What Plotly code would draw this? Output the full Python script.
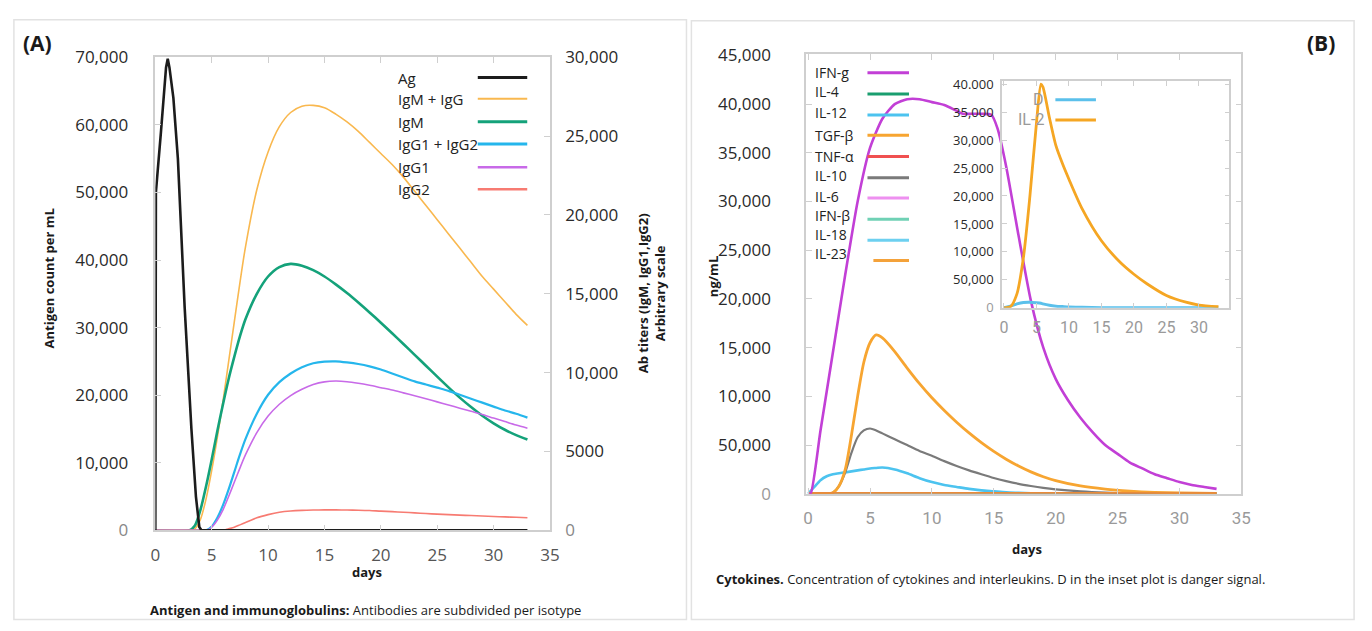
import plotly.graph_objects as go

W, H = 1372, 631


def px(x):
    return x / W


def py(y):
    return 1 - y / H


# ---------------- Panel A data ----------------
ag_days = [0, 0.05, 0.5, 0.95, 1.1, 1.25, 1.6, 2.0, 2.6, 3.2, 3.6, 3.9, 4.1, 33]
ag_vals = [0, 50000, 59000, 68500, 69800, 68500, 64000, 55000, 33000, 15000, 5000, 500, 0, 0]

ab_days = [0, 3, 3.5, 4, 4.5, 5, 5.5, 6, 6.5, 7, 7.5, 8, 9, 10, 11, 12, 13, 14, 15, 16, 17,
           18, 19, 20, 21, 22, 23, 24, 25, 26, 27, 28, 29, 30, 31, 32, 33]
igm_igg = [0, 0, 100, 700, 2000, 3800, 5900, 8200, 10700, 13200, 15700, 18000, 21600, 24000,
           25600, 26500, 26900, 26950, 26800, 26400, 25900, 25300, 24600, 23900, 23200, 22400,
           21500, 20600, 19700, 18800, 17900, 17000, 16100, 15300, 14500, 13700, 13000]
igm = [0, 0, 300, 1300, 2800, 4500, 6300, 8000, 9600, 11000, 12300, 13400, 15000, 16100,
       16700, 16900, 16780, 16500, 16100, 15600, 15050, 14450, 13820, 13170, 12500, 11820,
       11130, 10440, 9750, 9070, 8420, 7820, 7270, 6790, 6380, 6040, 5760]
igg12 = [0, 0, 0, 0, 0, 250, 800, 1600, 2600, 3700, 4800, 5800, 7400, 8600, 9400, 9950,
         10350, 10600, 10700, 10720, 10650, 10550, 10400, 10200, 9950, 9700, 9450, 9250, 9050,
         8850, 8600, 8350, 8100, 7850, 7600, 7400, 7150]
igg1 = [0, 0, 0, 0, 0, 200, 650, 1300, 2150, 3050, 3950, 4800, 6200, 7250, 8000, 8550, 8950,
        9250, 9420, 9470, 9430, 9330, 9200, 9050, 8900, 8720, 8540, 8350, 8150, 7950, 7750,
        7550, 7350, 7120, 6900, 6680, 6480]
igg2 = [0, 0, 0, 0, 0, 0, 0, 0, 100, 200, 350, 500, 800, 1000, 1150, 1230, 1270, 1290, 1300,
        1300, 1290, 1280, 1260, 1220, 1190, 1150, 1110, 1070, 1030, 1000, 970, 940, 910, 880,
        855, 830, 800]

legend_a = ["Ag", "IgM + IgG", "IgM", "IgG1 + IgG2", "IgG1", "IgG2"]
colors_a = ["#1c1c1c", "#f9b84f", "#14a27a", "#25b6ec", "#c86ae8", "#f77b72"]

yticks_a_left = [0, 10000, 20000, 30000, 40000, 50000, 60000, 70000]
yticks_a_left_text = ['<span style="color:#888">0</span>', "10,000", "20,000", "30,000",
                      "40,000", "50,000", "60,000", "70,000"]
yticks_a_right = [0, 5000, 10000, 15000, 20000, 25000, 30000]
yticks_a_right_text = ['<span style="color:#888">0</span>', "5000", "10,000", "15,000",
                       "20,000", "25,000", "30,000"]
xticks = [0, 5, 10, 15, 20, 25, 30, 35]

# ---------------- Panel B data ----------------
ifng_days = [0, 0.2, 1, 2, 3, 4, 5, 6, 7, 8, 9, 10, 11, 12, 12.5, 13, 14, 14.8, 15.3, 16, 17,
             18, 19, 20, 21, 22, 23, 24, 25, 26, 27, 28, 29, 30, 31, 32, 33]
ifng = [0, 0, 6500, 14500, 22500, 30000, 35500, 38500, 40000, 40500, 40500, 40200, 39900,
        39300, 39000, 39000, 39000, 38900, 37500, 33600, 26500, 19800, 15000, 11800, 9600, 7800,
        6300, 5000, 4100, 3200, 2600, 2000, 1600, 1200, 900, 700, 500]

cyt_days = [0, 0.5, 1, 1.5, 2, 2.5, 3, 3.5, 4, 4.5, 5, 5.5, 6, 7, 8, 9, 10, 11, 12, 13, 14,
            15, 16, 17, 18, 19, 20, 22, 24, 26, 28, 30, 33]
tgfb = [0, 0, 0, 0, 100, 800, 2500, 6000, 10000, 13500, 15500, 16300, 16000, 14600, 12900,
        11300, 9850, 8550, 7350, 6250, 5250, 4350, 3550, 2850, 2250, 1750, 1350, 800, 480, 280,
        150, 80, 30]
il10 = [0, 0, 0, 0, 100, 800, 2200, 4200, 5800, 6500, 6700, 6500, 6200, 5600, 5000, 4400, 3900,
        3350, 2850, 2400, 2000, 1620, 1300, 1020, 800, 610, 460, 250, 120, 50, 20, 0, 0]
il12 = [0, 700, 1400, 1800, 2000, 2100, 2200, 2300, 2400, 2500, 2600, 2650, 2700, 2500, 2100,
        1600, 1200, 900, 700, 500, 350, 250, 150, 100, 50, 20, 0, 0, 0, 0, 0, 0, 0]
flat_days = [0, 33]
tnfa = [0, 0]
il4 = [0, 0]
il6 = [0, 0]
ifnb = [0, 0]
il18 = [0, 0]
il23 = [0, 0]

legend_b = ["IFN-g", "IL-4", "IL-12", "TGF-β", "TNF-α", "IL-10", "IL-6", "IFN-β", "IL-18", "IL-23"]
colors_b = ["#c23fd6", "#1a9e6f", "#4cc3ef", "#f7a531", "#f05050", "#7a7a7a", "#ee90f0",
            "#6fd1b5", "#6dd0f0", "#f4a23a"]

yticks_b = [0, 5000, 10000, 15000, 20000, 25000, 30000, 35000, 40000, 45000]
yticks_b_text = ['<span style="color:#999">0</span>', "50,000", "10,000", "15,000", "20,000",
                 "25,000", "30,000", "35,000", "40,000", "45,000"]

# inset
inset_days = [0, 1, 2, 3, 4, 5, 5.7, 6, 7, 8, 9, 10, 12, 15, 18, 20, 22, 25, 28, 30, 33]
il2 = [0, 200, 2500, 9000, 20000, 33000, 40000, 39500, 34000, 29000, 25800, 23000, 17800,
       12000, 8000, 6000, 4300, 2200, 1000, 500, 200]
danger = [0, 300, 700, 950, 1000, 900, 800, 700, 450, 300, 220, 150, 80, 30, 0, 0, 0, 0, 0, 0, 0]
legend_inset = ["D", "IL-2"]
colors_inset = ["#5bc0eb", "#f5a623"]
yticks_inset = [0, 5000, 10000, 15000, 20000, 25000, 30000, 35000, 40000]
yticks_inset_text = ['<span style="color:#999">0</span>', "50,000", "10,000", "15,000", "20,000",
                     "25,000", "30,000", "35,000", "40.000"]

FONT = "Open Sans"

fig = go.Figure()

# Panel A traces: antibodies on 'y' (right side), Ag on 'y2' (left side, drawn on top)
ab_series = [igm_igg, igm, igg12, igg1, igg2]
ab_widths = [1.6, 2.6, 2.2, 1.6, 1.6]
for vals, col, wd in zip(ab_series, colors_a[1:], ab_widths):
    fig.add_trace(go.Scatter(x=ab_days, y=vals, xaxis="x", yaxis="y", mode="lines",
                             line=dict(color=col, width=wd, shape="spline", smoothing=0.8),
                             showlegend=False, hoverinfo="skip"))
fig.add_trace(go.Scatter(x=ag_days, y=ag_vals, xaxis="x", yaxis="y2", mode="lines",
                         line=dict(color=colors_a[0], width=2.6), showlegend=False,
                         hoverinfo="skip"))

# Panel B main traces
flat_series = [il4, tnfa, il6, ifnb, il18]
flat_cols = [colors_b[1], colors_b[4], colors_b[6], colors_b[7], colors_b[8]]
for vals, col in zip(flat_series, flat_cols):
    fig.add_trace(go.Scatter(x=flat_days, y=vals, xaxis="x3", yaxis="y3", mode="lines",
                             line=dict(color=col, width=2), showlegend=False, hoverinfo="skip"))
for vals, col, wd in [(il12, colors_b[2], 2.6), (il10, colors_b[5], 2.2), (tgfb, colors_b[3], 2.8)]:
    fig.add_trace(go.Scatter(x=cyt_days, y=vals, xaxis="x3", yaxis="y3", mode="lines",
                             line=dict(color=col, width=wd, shape="spline", smoothing=0.7),
                             showlegend=False, hoverinfo="skip"))
fig.add_trace(go.Scatter(x=flat_days, y=il23, xaxis="x3", yaxis="y3", mode="lines",
                         line=dict(color="#e98a3a", width=3.5), showlegend=False,
                         hoverinfo="skip"))
fig.add_trace(go.Scatter(x=ifng_days, y=ifng, xaxis="x3", yaxis="y3", mode="lines",
                         line=dict(color=colors_b[0], width=2.6, shape="spline", smoothing=0.6),
                         showlegend=False, hoverinfo="skip"))

# inset traces
fig.add_trace(go.Scatter(x=inset_days, y=danger, xaxis="x4", yaxis="y4", mode="lines",
                         line=dict(color=colors_inset[0], width=3, shape="spline", smoothing=0.6),
                         showlegend=False, hoverinfo="skip"))
fig.add_trace(go.Scatter(x=inset_days, y=il2, xaxis="x4", yaxis="y4", mode="lines",
                         line=dict(color=colors_inset[1], width=2.8, shape="spline", smoothing=0.7),
                         showlegend=False, hoverinfo="skip"))

frame = "#cfcfcf"
tickfont_a = dict(family=FONT, size=17, color="#2a2a2a")
xtickfont_a = dict(family=FONT, size=17, color="#555555")
tickfont_b = dict(family=FONT, size=17, color="#2a2a2a")
xtickfont_b = dict(family="Roboto", size=17, color="#9a9a9a")

fig.update_layout(
    width=W, height=H, margin=dict(l=0, r=0, t=0, b=0),
    paper_bgcolor="white", plot_bgcolor="rgba(0,0,0,0)", showlegend=False,
    xaxis=dict(domain=[px(152), px(551)], range=[0, 35], anchor="y",
               tickvals=xticks, ticks="inside", ticklen=6, tickcolor=frame,
               showline=True, linecolor=frame, linewidth=1.5, mirror="ticks",
               showgrid=False, zeroline=False, tickfont=xtickfont_a, ticklabelstandoff=8),
    yaxis=dict(domain=[py(538), py(47)], range=[0, 30000], anchor="x", side="right",
               tickvals=yticks_a_right, ticktext=yticks_a_right_text, ticks="inside",
               ticklen=6, tickcolor=frame, showline=True, linecolor=frame, linewidth=1.5,
               showgrid=False, zeroline=False, tickfont=tickfont_a, ticklabelstandoff=10),
    yaxis2=dict(overlaying="y", range=[0, 70000], anchor="x", side="left",
                tickvals=yticks_a_left, ticktext=yticks_a_left_text, ticks="inside",
                ticklen=6, tickcolor=frame, showline=True, linecolor=frame, linewidth=1.5,
                showgrid=False, zeroline=False, tickfont=tickfont_a, ticklabelstandoff=22),
    xaxis3=dict(domain=[px(810), px(1250)], range=[-0.16, 35], anchor="y3",
                tickvals=xticks, ticks="inside", ticklen=6, tickcolor=frame,
                showline=True, linecolor=frame, linewidth=1.5, mirror="ticks",
                showgrid=False, zeroline=False, tickfont=xtickfont_b, ticklabelstandoff=8),
    yaxis3=dict(domain=[py(500), py(44)], range=[0, 45100], anchor="x3",
                tickvals=yticks_b, ticktext=yticks_b_text, ticks="inside", ticklen=6,
                tickcolor=frame, showline=True, linecolor=frame, linewidth=1.5,
                mirror="ticks", showgrid=False, zeroline=False, tickfont=tickfont_b,
                ticklabelstandoff=30),
    xaxis4=dict(domain=[px(1008), px(1238)], range=[-0.3, 34.7], anchor="y4",
                tickvals=xticks, ticks="inside", ticklen=5, tickcolor=frame,
                showline=True, linecolor=frame, linewidth=1.5, mirror="ticks",
                showgrid=False, zeroline=False,
                tickfont=dict(family="Roboto", size=16, color="#9a9a9a"), ticklabelstandoff=4),
    yaxis4=dict(domain=[py(307), py(72)], range=[0, 40500], anchor="x4",
                tickvals=yticks_inset, ticktext=yticks_inset_text, ticks="inside", ticklen=5,
                tickcolor=frame, showline=True, linecolor=frame, linewidth=1.5,
                mirror="ticks", showgrid=False, zeroline=False,
                tickfont=dict(family=FONT, size=13, color="#2a2a2a"), ticklabelstandoff=4),
)

annotations = []
shapes = []


def text(x, y, s, size=13, bold=False, angle=0, xanchor="center", color="#1a1a1a", family=FONT):
    annotations.append(dict(x=px(x), y=py(y), xref="paper", yref="paper",
                            text=f"<b>{s}</b>" if bold else s, showarrow=False,
                            textangle=angle, xanchor=xanchor, yanchor="middle",
                            font=dict(family=family, size=size, color=color)))


# panel borders
shapes.append(dict(type="rect", xref="paper", yref="paper", x0=px(9), x1=px(689),
                   y0=py(630.5), y1=py(8), line=dict(color="#e2e2e2", width=1.5)))
shapes.append(dict(type="rect", xref="paper", yref="paper", x0=px(694), x1=px(1364),
                   y0=py(630.5), y1=py(9), line=dict(color="#e2e2e2", width=1.5)))

# Panel A labels
text(33, 32, "(A)", size=21, bold=True)
text(44, 277, "Antigen count per mL", size=13, bold=True, angle=-90)
text(654, 292, "Ab titers (IgM, IgG1,IgG2)<br>Arbitrary scale", size=13, bold=True, angle=-90)
text(366, 581, "days", size=13, bold=True)
text(364, 621, "<b>Antigen and immunoglobulins:</b> Antibodies are subdivided per isotype", size=13)

# Panel A legend (text then line sample)
leg_a_y = [68, 90, 114, 137, 161, 184]
leg_a_w = [3, 2, 3, 3, 2.5, 2.5]
for lbl, col, yy, lw in zip(legend_a, colors_a, leg_a_y, leg_a_w):
    text(395, yy, lbl, size=15, xanchor="left", color="#222")
    shapes.append(dict(type="line", xref="paper", yref="paper", x0=px(478), x1=px(528),
                       y0=py(yy), y1=py(yy), line=dict(color=col, width=lw)))

# Panel B labels
text(1331, 32, "(B)", size=21, bold=True)
text(716, 275, "ng/mL", size=13, bold=True, angle=-90)
text(1033, 557, "days", size=13, bold=True)
text(717, 588, "<b>Cytokines.</b> Concentration of cytokines and interleukins. D in the inset plot is danger signal.",
     size=13, xanchor="left")

leg_b_text_y = [63, 83, 104, 128, 150, 170, 191, 211, 231, 251]
leg_b_line_y = [63, 85, 107, 128, 150, 172, 193, 215, 237, 258]
for i, (lbl, col) in enumerate(zip(legend_b, colors_b)):
    text(817, leg_b_text_y[i], lbl, size=14, xanchor="left", color="#222")
    x0 = 878 if lbl == "IL-23" else 872
    shapes.append(dict(type="line", xref="paper", yref="paper", x0=px(x0), x1=px(914),
                       y0=py(leg_b_line_y[i]), y1=py(leg_b_line_y[i]),
                       line=dict(color=col, width=3)))

# inset legend
for lbl, col, yy in zip(legend_inset, colors_inset, [91, 112]):
    text(1053, yy, lbl, size=16, xanchor="right", color="#9a9a9a", family="Roboto")
    shapes.append(dict(type="line", xref="paper", yref="paper", x0=px(1062), x1=px(1103),
                       y0=py(yy), y1=py(yy), line=dict(color=col, width=3)))

fig.update_layout(annotations=annotations, shapes=shapes)

fig.write_html(
    "out.html",
    config={"displayModeBar": False},
    post_script="document.body.style.margin='0';document.body.style.overflow='hidden';",
)
